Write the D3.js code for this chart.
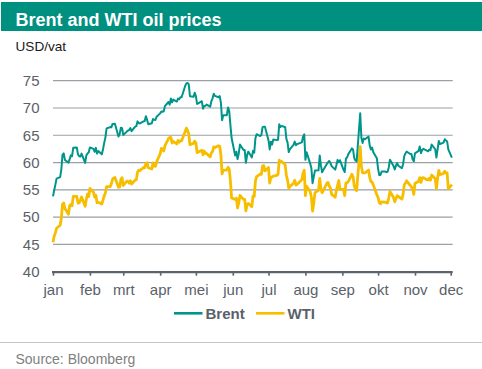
<!DOCTYPE html>
<html>
<head>
<meta charset="utf-8">
<script src="https://cdn.jsdelivr.net/npm/d3@7"></script>
<style>
  html, body { margin: 0; padding: 0; background: #ffffff; }
  svg { display: block; font-family: "Liberation Sans", Arial, sans-serif; }
</style>
</head>
<body>
<svg id="chart" width="482" height="369"></svg>
<script>
// ---- Data (2019, trading days Mon–Fri, Jan 1 … Dec 2) ----
const monthLabels = ["jan","feb","mrt","apr","mei","jun","jul","aug","sep","okt","nov","dec"];
const yTicks = [40, 45, 50, 55, 60, 65, 70, 75];
const seriesNames = ["Brent", "WTI"];

const brent = [
  53.80, 54.91, 55.95, 57.06,
  57.33, 58.72, 61.44, 61.68, 60.48,
  59.99, 60.64, 61.32, 61.18, 62.70,
  62.74, 61.50, 61.14, 61.09, 61.64,
  59.93, 61.32, 61.65, 61.89, 62.75,
  62.51, 61.98, 62.69, 61.63, 62.10,
  61.51, 62.42, 63.61, 64.57, 66.25,
  66.50, 66.45, 67.08, 67.07, 67.12,
  64.76, 65.21, 66.39, 66.31, 65.07,
  65.67, 65.86, 65.99, 66.30, 65.74,
  66.58, 66.67, 67.55, 67.23, 67.16,
  67.54, 67.61, 68.50, 67.86, 67.03,
  67.21, 67.97, 67.83, 67.82, 68.39,
  69.01, 69.37, 69.31, 69.40, 70.34,
  71.10, 70.61, 71.73, 71.02, 71.55,
  71.18, 71.72, 71.62, 71.97, 71.97,
  74.04, 74.51, 74.57, 74.35, 72.15,
  72.04, 72.80, 72.18, 70.75, 70.85,
  71.24, 69.88, 70.37, 70.39, 70.62,
  70.23, 71.24, 71.77, 72.62, 72.21,
  71.97, 72.18, 70.99, 67.76, 68.69,
  68.69, 70.11, 69.45, 66.87, 64.49,
  61.28, 61.97, 60.63, 61.67, 63.29,
  62.29, 62.29, 59.97, 61.31, 62.01,
  60.94, 62.14, 61.82, 64.45, 65.20,
  64.86, 65.05, 66.49, 66.55, 66.55,
  64.06, 62.40, 63.82, 63.30, 64.23,
  64.11, 64.16, 67.01, 66.52, 66.72,
  66.48, 64.35, 63.66, 61.93, 62.47,
  63.26, 63.83, 63.18, 63.39, 63.46,
  63.71, 64.72, 65.17, 60.50, 61.89,
  59.81, 58.94, 56.23, 57.38, 58.53,
  58.57, 61.30, 59.48, 58.23, 58.64,
  59.74, 60.03, 60.30, 59.92, 59.34,
  58.70, 59.51, 60.49, 60.08, 60.43,
  58.66, 58.26, 60.70, 60.95, 61.54,
  62.59, 62.38, 60.81, 60.38, 60.22,
  69.02, 64.55, 63.60, 64.40, 64.28,
  64.77, 63.10, 62.39, 62.74, 61.91,
  60.78, 58.89, 57.69, 57.71, 58.37,
  58.35, 58.24, 58.32, 59.10, 60.51,
  59.35, 58.74, 59.42, 59.91, 59.42,
  58.96, 59.70, 61.17, 61.67, 62.02,
  61.57, 61.59, 60.61, 60.23, 61.69,
  62.13, 62.96, 61.74, 62.29, 62.51,
  62.18, 62.06, 62.37, 62.28, 63.30,
  62.44, 60.91, 62.40, 63.97, 63.39,
  63.65, 64.27, 64.06, 63.87, 62.43,
  60.92
];

const wti = [
  45.41, 46.54, 47.09, 47.96,
  48.52, 49.78, 52.36, 52.59, 51.59,
  50.51, 52.11, 52.31, 52.07, 53.80,
  53.80, 52.57, 52.62, 53.13, 53.69,
  51.99, 53.31, 54.23, 53.79, 55.26,
  54.56, 53.66, 54.01, 52.64, 52.72,
  52.41, 53.10, 53.90, 54.41, 55.59,
  55.59, 56.09, 56.92, 57.18, 57.26,
  55.48, 55.50, 56.94, 57.22, 55.80,
  56.59, 56.56, 56.22, 56.66, 56.07,
  56.79, 56.87, 58.26, 58.61, 58.52,
  59.09, 59.03, 59.83, 59.98, 59.04,
  58.82, 59.94, 59.41, 59.30, 60.14,
  61.59, 62.58, 62.46, 62.10, 63.08,
  64.40, 64.61, 64.61, 63.58, 63.89,
  63.40, 64.05, 63.76, 64.00, 64.00,
  65.70, 66.30, 65.89, 65.21, 63.30,
  63.50, 63.91, 63.60, 61.81, 61.94,
  62.25, 61.40, 62.12, 61.70, 61.66,
  61.04, 61.78, 62.02, 62.87, 62.76,
  63.10, 62.99, 61.42, 57.91, 58.63,
  58.63, 59.14, 58.81, 56.59, 53.50,
  53.25, 53.48, 51.68, 52.59, 53.99,
  53.26, 53.27, 51.14, 52.28, 52.51,
  51.93, 53.90, 53.76, 56.65, 57.43,
  57.90, 57.83, 59.38, 59.43, 58.47,
  59.09, 56.25, 57.34, 57.34, 57.51,
  57.66, 57.83, 60.43, 60.20, 60.21,
  59.58, 57.62, 56.78, 55.30, 55.63,
  56.22, 56.77, 55.88, 56.02, 56.20,
  56.87, 58.05, 58.58, 53.95, 55.66,
  54.69, 53.63, 51.09, 52.54, 54.50,
  54.93, 57.10, 55.23, 54.47, 54.87,
  56.21, 56.34, 55.68, 55.35, 54.17,
  53.64, 54.93, 55.78, 56.71, 55.10,
  55.10, 53.94, 56.26, 56.30, 56.52,
  57.85, 57.40, 55.75, 55.09, 54.85,
  62.90, 59.34, 58.11, 58.13, 58.09,
  58.64, 57.29, 56.49, 56.41, 55.91,
  54.07, 53.62, 52.64, 52.45, 52.81,
  52.75, 52.63, 52.59, 53.55, 54.70,
  53.59, 52.81, 53.36, 53.93, 53.78,
  53.31, 54.16, 55.97, 56.23, 56.66,
  55.81, 55.54, 55.06, 54.18, 56.20,
  56.54, 57.23, 56.35, 57.15, 57.24,
  56.86, 56.80, 57.12, 56.77, 57.72,
  57.05, 55.21, 57.11, 58.58, 57.77,
  58.01, 58.41, 58.11, 58.11, 55.17,
  55.96
];

// Trading-day calendar (weekdays) for the x positions
const startDate = new Date(2019, 0, 1);
const endDate = new Date(2019, 11, 2);
const dates = d3.timeDay.range(startDate, d3.timeDay.offset(endDate, 1))
  .filter(d => d.getDay() !== 0 && d.getDay() !== 6);

// ---- Layout ----
const svg = d3.select("#chart");
const W = 482, H = 369;
const teal = "#00958a", gold = "#f7be00";
const axisGray = "#5b636b", gridGray = "#9aa0a6", textGray = "#5a6169";

const x = d3.scaleTime()
  .domain([new Date(2019, 0, 1), new Date(2019, 11, 1)])
  .range([53, 450.7]);
const y = d3.scaleLinear().domain([40, 75]).range([271.7, 80.7]);

// Title bar
svg.append("rect").attr("x", 1).attr("y", 2).attr("width", W - 1).attr("height", 29)
  .attr("fill", "#00907f");
svg.append("text").attr("x", 15.5).attr("y", 25.5)
  .attr("fill", "#ffffff").attr("font-weight", "bold").attr("font-size", 18)
  .text("Brent and WTI oil prices");

// Unit label
svg.append("text").attr("x", 15.5).attr("y", 50.5)
  .attr("fill", "#1a1a1a").attr("font-size", 13.6).text("USD/vat");

// Gridlines
const gridRight = x(endDate) + 0.8;
svg.append("g").selectAll("line").data(yTicks.filter(t => t !== 40)).join("line")
  .attr("x1", 53).attr("x2", gridRight)
  .attr("y1", d => y(d)).attr("y2", d => y(d))
  .attr("stroke", gridGray).attr("stroke-width", 1.2);

// Y axis labels
const yAxis = d3.axisLeft(y).tickValues(yTicks).tickSize(0).tickPadding(0);
const gy = svg.append("g").attr("transform", "translate(39.5,0)").call(yAxis);
gy.select(".domain").remove();
gy.selectAll("text").attr("font-size", 15).attr("fill", textGray)
  .attr("font-family", "Liberation Sans, Arial, sans-serif");

// X axis
const monthTicks = d3.timeMonth.range(new Date(2019, 0, 1), new Date(2019, 11, 2));
const xAxis = d3.axisBottom(x).tickValues(monthTicks)
  .tickFormat((d, i) => monthLabels[i]).tickSize(4).tickSizeOuter(0).tickPadding(9);
const gx = svg.append("g").attr("transform", `translate(0,${y(40)})`).call(xAxis);
gx.select(".domain").attr("d", `M52,0.5H${gridRight}`).attr("stroke", axisGray).attr("stroke-width", 2.2);
gx.selectAll(".tick line").attr("stroke", axisGray).attr("stroke-width", 1.6);
gx.selectAll("text").attr("font-size", 15).attr("fill", textGray)
  .attr("font-family", "Liberation Sans, Arial, sans-serif");

// Lines
const line = d3.line().x((d, i) => x(dates[i])).y(d => y(d)).curve(d3.curveLinear);
svg.append("path").datum(wti).attr("d", line)
  .attr("fill", "none").attr("stroke", gold).attr("stroke-width", 2.8)
  .attr("stroke-linejoin", "round");
svg.append("path").datum(brent).attr("d", line)
  .attr("fill", "none").attr("stroke", teal).attr("stroke-width", 2)
  .attr("stroke-linejoin", "round");

// Legend
const legend = [
  { name: seriesNames[0], color: teal, x0: 174, w: 2.6 },
  { name: seriesNames[1], color: gold, x0: 256, w: 2.6 }
];
const lg = svg.append("g");
legend.forEach(l => {
  lg.append("line").attr("x1", l.x0).attr("x2", l.x0 + 28.5)
    .attr("y1", 313.3).attr("y2", 313.3).attr("stroke", l.color).attr("stroke-width", l.w);
  lg.append("text").attr("x", l.x0 + 31.5).attr("y", 318.5)
    .attr("font-size", 15).attr("font-weight", "bold").attr("fill", textGray).text(l.name);
});

// Separator + source
svg.append("line").attr("x1", 0).attr("x2", W).attr("y1", 342.5).attr("y2", 342.5)
  .attr("stroke", "#c4c4c4").attr("stroke-width", 1);
svg.append("text").attr("x", 15.5).attr("y", 363.5)
  .attr("font-size", 14).attr("fill", "#808080").text("Source: Bloomberg");

console.log(dates.length, brent.length, wti.length);
</script>
</body>
</html>
